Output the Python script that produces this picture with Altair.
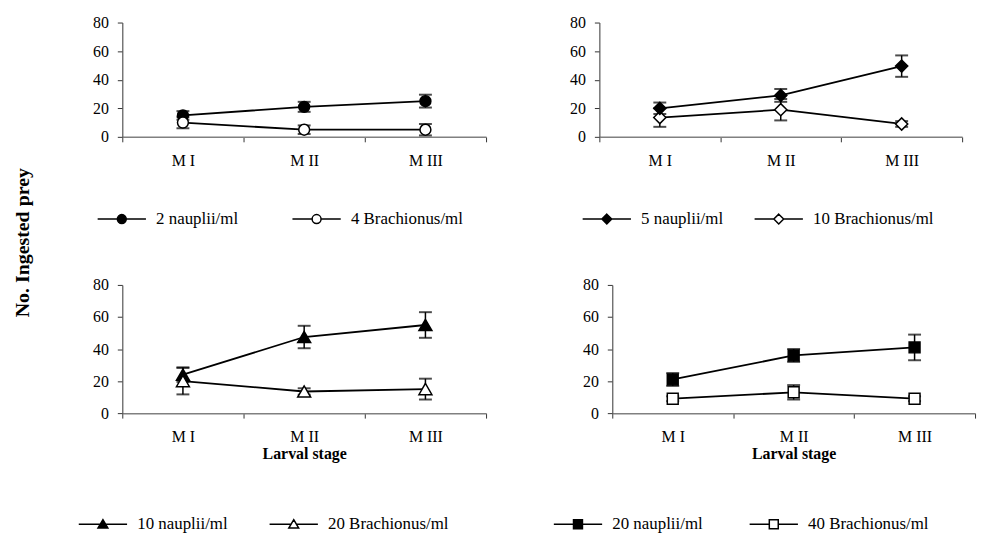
import altair as alt
import pandas as pd

FONT = "Liberation Serif"

stages = ["M I", "M II", "M III"]
shapes = ["circle", "diamond", "triangle-up", "square"]
marker_sizes = [120, 150, 170, 120]

nauplii_labels = ["2 nauplii/ml", "5 nauplii/ml", "10 nauplii/ml", "20 nauplii/ml"]
brach_labels = ["4 Brachionus/ml", "10 Brachionus/ml", "20 Brachionus/ml", "40 Brachionus/ml"]

nauplii_mean = [[15, 21, 25], [20, 29, 49.5], [24, 47.5, 55], [21, 36, 41]]
nauplii_err = [[3, 3.5, 4.5], [4, 4.5, 7.5], [4.5, 7, 8], [4, 4, 8]]
brach_mean = [[10, 5, 5], [13.5, 19, 9], [20, 13.5, 15], [9, 13, 9]]
brach_err = [[4, 3, 4], [6.5, 7.5, 2], [8.3, 2, 6.5], [1.5, 4.5, 1.5]]

y_ticks = [0, 20, 40, 60, 80]


def legend_path(shape, half=5.4):
    if shape == "circle":
        marker, e = "M-1,0A1,1,0,1,1,1,0A1,1,0,1,1,-1,0Z", 1
    elif shape == "diamond":
        marker, e = "M0,-1.1L1.1,0L0,1.1L-1.1,0Z", 1.1
    elif shape == "triangle-up":
        marker, e = "M0,-1L1.1,0.85L-1.1,0.85Z", 0.55
    else:
        marker, e = "M-1,-1L1,-1L1,1L-1,1Z", 1
    return f"M{-half},0L{-e},0M{e},0L{half},0" + marker


def panel(i, width, height, xtitle, lx, ly, colpad):
    rows = []
    for labels, means, errs in ((nauplii_labels, nauplii_mean, nauplii_err),
                                (brach_labels, brach_mean, brach_err)):
        for j, st in enumerate(stages):
            m, e = means[i][j], errs[i][j]
            rows.append({"stage": st, "series": labels[i], "mean": m,
                         "lo": m - e, "hi": m + e})
    df = pd.DataFrame(rows)

    x = alt.X("stage:N", sort=stages,
              scale=alt.Scale(type="band", domain=stages, paddingInner=0, paddingOuter=0),
              axis=alt.Axis(title=xtitle, labelAngle=0, tickBand="extent",
                            labelFont=FONT, labelFontSize=16, labelColor="black",
                            labelPadding=11, tickSize=5, tickColor="#333",
                            domainColor="#808080", domainWidth=1.5,
                            titleFont=FONT, titleFontSize=16, titleFontWeight="bold",
                            titleColor="black", titlePadding=1))
    yscale = alt.Scale(domain=[0, 80], nice=False)
    yaxis = alt.Axis(title=None, values=y_ticks, grid=False,
                     labelFont=FONT, labelFontSize=16, labelColor="black",
                     labelPadding=9, tickSize=5, tickColor="#333",
                     domainColor="#555", domainWidth=1.2)

    base = alt.Chart(df).encode(x=x)

    rule = base.mark_rule(color="black", strokeWidth=1.5).encode(
        y=alt.Y("lo:Q", scale=yscale, axis=yaxis), y2="hi:Q")
    cap_lo = base.mark_tick(color="black", thickness=2, size=13).encode(
        y=alt.Y("lo:Q", scale=yscale, axis=yaxis))
    cap_hi = base.mark_tick(color="black", thickness=2, size=13).encode(
        y=alt.Y("hi:Q", scale=yscale, axis=yaxis))
    line = base.mark_line(color="black", strokeWidth=1.8).encode(
        y=alt.Y("mean:Q", scale=yscale, axis=yaxis), detail="series:N")
    pts = base.mark_point(shape=shapes[i], size=marker_sizes[i], stroke="black",
                          strokeWidth=1.5, opacity=1, fillOpacity=1).encode(
        y=alt.Y("mean:Q", scale=yscale, axis=yaxis),
        fill=alt.Fill("series:N",
                      scale=alt.Scale(domain=[nauplii_labels[i], brach_labels[i]],
                                      range=["black", "white"]),
                      legend=alt.Legend(orient="none", legendX=lx, legendY=ly,
                                        direction="horizontal", title=None,
                                        padding=0, labelFont=FONT, labelFontSize=17,
                                        labelColor="black", labelOffset=26,
                                        labelLimit=400, columnPadding=colpad,
                                        symbolType=legend_path(shapes[i]),
                                        symbolSize=81, symbolStrokeColor="black",
                                        symbolStrokeWidth=1.5, symbolOpacity=1)),
        order=alt.Order("series:N"))

    return alt.layer(rule, cap_lo, cap_hi, line, pts).properties(
        width=width, height=height).resolve_scale(fill="shared")


top = alt.hconcat(
    panel(0, 366, 115, None, -9, 189, 51),
    panel(1, 365, 115, None, -1, 189, 28),
    spacing=83).resolve_scale(fill="independent", y="independent")
bottom = alt.hconcat(
    panel(2, 366, 129, "Larval stage", -28, 232, 38),
    panel(3, 365, 129, "Larval stage", -43, 232, 43),
    spacing=83).resolve_scale(fill="independent", y="independent")

chart = alt.vconcat(top, bottom, spacing=50).resolve_scale(
    fill="independent", y="independent", x="independent"
).properties(
    padding={"left": 4, "top": 5, "right": 5, "bottom": 5},
    title=alt.TitleParams("No. Ingested prey", orient="left", anchor="middle",
                          font=FONT, fontSize=20, fontWeight="bold", color="black",
                          offset=60, dx=31)
).configure(font=FONT).configure_view(stroke=None).configure_legend(
    labelFont=FONT).configure_axis(labelFont=FONT, titleFont=FONT)

chart.save("out.html", embed_options={"renderer": "svg", "actions": False})
